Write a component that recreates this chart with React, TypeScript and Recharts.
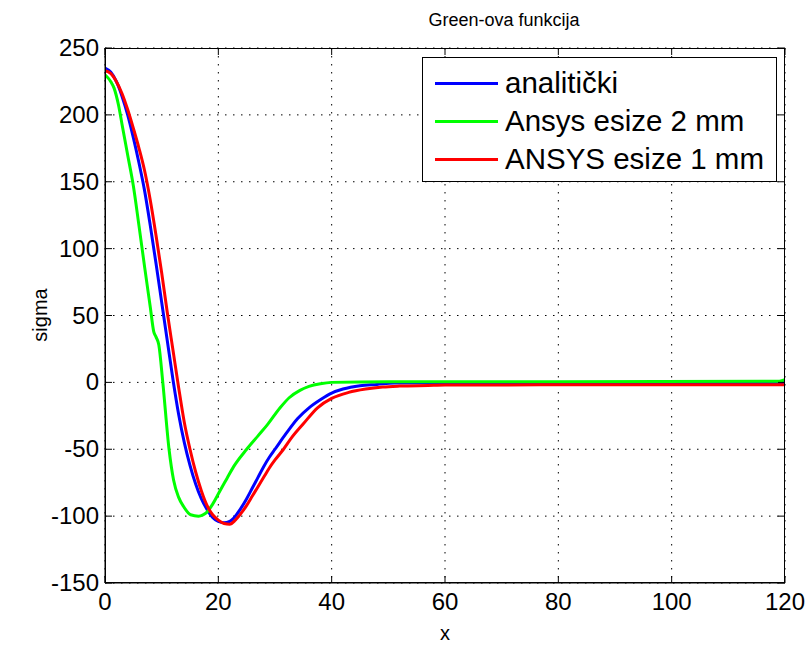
import { LineChart, Line, XAxis, YAxis, CartesianGrid } from 'recharts'

const xTicks = [0, 20, 40, 60, 80, 100, 120]
const yTicks = [-150, -100, -50, 0, 50, 100, 150, 200, 250]

// analitički
const analitickiX = [0, 1, 2, 3, 4, 5, 6, 7, 8, 9, 10, 11, 12, 13, 14, 15, 16, 17, 18, 19, 20, 21, 22, 23, 24, 25, 26, 27, 28, 29, 30, 32, 34, 36, 38, 40, 42, 45, 48, 51, 60, 120]
const analitickiY = [235, 232, 225, 214, 200, 183, 164, 143, 117, 89, 60, 31, 2, -24, -45, -62, -76, -87, -95, -101, -104, -105, -104, -100, -94, -87, -79, -71, -63, -56, -50, -38, -27, -19, -13, -8, -5, -2.5, -1.5, -0.5, -0.3, -0.3]

// Ansys esize 2 mm
const ansys2X = [0, 1, 1.6, 2.4, 3, 4, 5, 6, 7, 8, 8.6, 9, 9.5, 10.2, 11.3, 12.1, 13, 13.9, 15.1, 16.5, 17.3, 18, 19, 20.3, 21.5, 22.7, 25, 27, 28.6, 30.9, 32.5, 34.4, 36, 38, 40, 50, 80, 119, 120]
const ansys2Y = [230, 225, 220, 207, 193, 170, 147, 117, 86, 56, 38, 34, 28, 0, -50, -73, -86, -93, -99, -100, -99, -97, -91, -81, -72, -63, -50, -40, -32, -19, -11.5, -6, -3, -1, 0, 0.5, 0.5, 0.8, 2]

// ANSYS esize 1 mm
const ansys1X = [0, 1, 2, 3, 4, 5, 6, 7, 8, 9, 10, 11, 12, 13, 14, 15, 16, 17, 18, 19, 20, 21, 22, 23, 24, 25, 26, 27, 28, 29, 30, 31.5, 33, 35, 37.5, 40, 43, 46, 49, 52, 57, 60, 90, 120]
const ansys1Y = [233, 231, 225, 216, 204, 190, 175, 158, 136, 110, 82, 52, 24, -4, -30, -50, -67, -81, -92, -99, -103, -105.5, -106, -103, -98, -92, -85, -78, -71, -64, -58, -50, -41, -31, -19, -12, -7.5, -5, -3.5, -2.8, -2.3, -2, -1.8, -1.8]

const series = [
  { name: 'analitički', color: '#0000ff', xs: analitickiX, ys: analitickiY },
  { name: 'Ansys esize 2 mm', color: '#00ff00', xs: ansys2X, ys: ansys2Y },
  { name: 'ANSYS esize 1 mm', color: '#ff0000', xs: ansys1X, ys: ansys1Y },
]

const W = 809
const H = 651
const PLOT = { left: 105, top: 48, right: 785, bottom: 583 }
const FONT = '"Liberation Sans", Arial, Helvetica, sans-serif'

const XTick = ({ x, y, payload }: any) => (
  <g>
    <line x1={x} y1={y} x2={x} y2={y - 7} stroke="#000" />
    <line x1={x} y1={PLOT.top} x2={x} y2={PLOT.top + 7} stroke="#000" />
    <text x={x} y={y + 27} textAnchor="middle" fontSize={24} fontFamily={FONT} fill="#000">{payload.value}</text>
  </g>
)

const YTick = ({ x, y, payload }: any) => (
  <g>
    <line x1={x} y1={y} x2={x + 7} y2={y} stroke="#000" />
    <line x1={PLOT.right} y1={y} x2={PLOT.right - 7} y2={y} stroke="#000" />
    <text x={x - 6} y={y + 8} textAnchor="end" fontSize={24} fontFamily={FONT} fill="#000">{payload.value}</text>
  </g>
)

const LegendBox = () => (
  <div style={{
    position: 'absolute', left: 422, top: 57, border: '1px solid #000', background: '#fff', width: 355, height: 125,
    boxSizing: 'border-box', paddingTop: 6, fontFamily: FONT,
  }}>
    {series.map(s => (
      <div key={s.name} style={{ display: 'flex', alignItems: 'center', height: 38 }}>
        <div style={{ width: 63, height: 3, background: s.color, marginLeft: 12, marginRight: 7 }} />
        <span style={{ fontSize: 29.5, color: '#000', lineHeight: '38px', whiteSpace: 'nowrap' }}>{s.name}</span>
      </div>
    ))}
  </div>
)

export default function App() {
  return (
    <div style={{ position: 'absolute', left: 0, top: 0, width: W, height: H, background: '#fff', fontFamily: FONT }}>
      <LineChart width={W} height={H} margin={{ top: PLOT.top, right: W - PLOT.right, bottom: 0, left: 1 }}>
        <CartesianGrid stroke="#000" strokeDasharray="1.5 6.5" />
        <XAxis
          type="number"
          dataKey="x"
          domain={[0, 120]}
          ticks={xTicks}
          allowDataOverflow
          height={H - PLOT.bottom}
          tickSize={0}
          tickMargin={0}
          tick={<XTick />}
          axisLine={{ stroke: '#000' }}
        />
        <YAxis
          type="number"
          dataKey="y"
          domain={[-150, 250]}
          ticks={yTicks}
          allowDataOverflow
          width={PLOT.left - 1}
          tickSize={0}
          tickMargin={0}
          tick={<YTick />}
          axisLine={{ stroke: '#000' }}
        />
        {series.map(s => (
          <Line
            key={s.name}
            name={s.name}
            data={s.xs.map((x, i) => ({ x, y: s.ys[i] }))}
            dataKey="y"
            type="monotone"
            stroke={s.color}
            strokeWidth={3}
            dot={false}
            activeDot={false}
            isAnimationActive={false}
          />
        ))}
      </LineChart>
      <div style={{
        position: 'absolute', left: PLOT.left, top: PLOT.top, width: PLOT.right - PLOT.left,
        height: PLOT.bottom - PLOT.top, border: '1px solid #000', boxSizing: 'border-box', pointerEvents: 'none',
      }} />
      <LegendBox />
      <div style={{ position: 'absolute', left: 504, top: 10, transform: 'translateX(-50%)', fontSize: 18, color: '#000', whiteSpace: 'nowrap' }}>
        Green-ova funkcija
      </div>
      <div style={{ position: 'absolute', left: 40, top: 315, transform: 'translate(-50%, -50%) rotate(-90deg)', fontSize: 20, color: '#000' }}>
        sigma
      </div>
      <div style={{ position: 'absolute', left: 445, top: 622, transform: 'translateX(-50%)', fontSize: 20, color: '#000' }}>
        x
      </div>
    </div>
  )
}
